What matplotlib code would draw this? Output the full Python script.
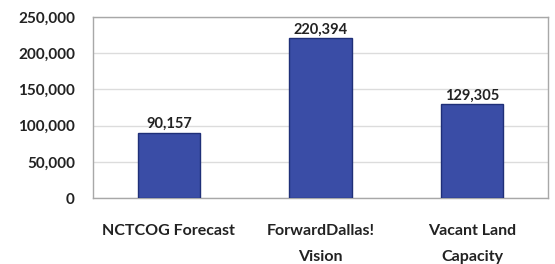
import matplotlib
matplotlib.use("Agg")
import matplotlib.pyplot as plt

categories = ["NCTCOG Forecast", "ForwardDallas!\nVision", "Vacant Land\nCapacity"]
values = [90157, 220394, 129305]
yticks = [0, 50000, 100000, 150000, 200000, 250000]

plt.rcParams["font.family"] = ["Lato", "DejaVu Sans"]

fig = plt.figure(figsize=(5.55, 2.64), dpi=100)
ax = fig.add_axes([93 / 555, 1 - 198 / 264, 455 / 555, 181 / 264])

x = range(len(values))
ax.bar(x, values, width=0.41, color="#3a4da6", edgecolor="#1f2f78", linewidth=1.0, zorder=3)
for i, v in zip(x, values):
    ax.text(i, v + 2500, f"{v:,}", ha="center", va="bottom", fontsize=10.5,
            fontweight="bold", color="#222222")

ax.set_xlim(-0.5, 2.5)
ax.set_ylim(0, 250000)
ax.set_yticks(yticks)
ax.set_yticklabels([f"{t:,}" for t in yticks], fontsize=11, fontweight="bold", color="#222222")
ax.set_xticks(list(x))
ax.set_xticklabels(categories, fontsize=11.5, fontweight="bold", color="#222222", linespacing=2.1)
ax.tick_params(axis="both", length=0)
ax.tick_params(axis="y", pad=13)
ax.tick_params(axis="x", pad=19)
ax.yaxis.grid(True, color="#dcdcdc", linewidth=1.0, zorder=0)
for s in ax.spines.values():
    s.set_color("#a8a8a8")
    s.set_linewidth(1.0)

fig.savefig("out.png", dpi=100)
